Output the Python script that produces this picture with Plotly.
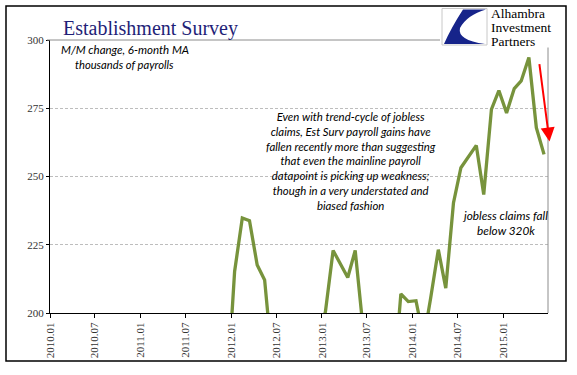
import plotly.graph_objects as go
import pandas as pd

# ---------------- data ----------------
start_month = "2010-01"
# Establishment survey, M/M change, 6-month MA (thousands of payrolls)
payroll_ma = [
    40, 65, 95, 135, 180, 150, 115, 75, 40, 25, 35, 70,            # 2010
    95, 125, 160, 185, 170, 150, 120, 110, 100, 120, 135, 170,     # 2011
    215.2, 234.8, 233.8, 217.6, 212.1, 182, 160, 150, 155, 170, 180, 190,  # 2012
    200.5, 222.9, 218, 213, 222.9, 195, 185, 180, 178, 172, 207, 204.2,   # 2013
    204.5, 190.4, 205.4, 223.2, 209.1, 240.3, 253.2, 257.2, 261.4, 243.4, 274.6, 281.5,  # 2014
    273.3, 282.2, 285, 293.6, 267.9, 258.1,                        # 2015
]
tick_labels = ["2010.01", "2010.07", "2011.01", "2011.07", "2012.01", "2012.07",
               "2013.01", "2013.07", "2014.01", "2014.07", "2015.01"]
y_ticks = [200, 225, 250, 275, 300]
x_range = ["2010-01-01", "2015-07-01"]
y_range = [200, 300]

months = pd.period_range(start_month, periods=len(payroll_ma), freq="M")
x_dates = [p.start_time + pd.Timedelta(days=14) for p in months]
tick_dates = [pd.Period(t.replace(".", "-"), freq="M").start_time for t in tick_labels]

# ---------------- layout geometry ----------------
W, H = 577, 375
L, R, T, B = 50, 548, 40, 313


def px(x):
    return (x - L) / (R - L)


def py(y):
    return (B - y) / (B - T)


SERIF = "Liberation Serif"
SANS = "Lato"

fig = go.Figure()
fig.add_trace(go.Scatter(
    x=x_dates, y=payroll_ma, mode="lines",
    line=dict(color="#77933C", width=3.3),
    hoverinfo="x+y", showlegend=False,
))

shapes = [
    # outer frame
    dict(type="rect", xref="paper", yref="paper", x0=px(6), x1=px(566), y0=py(361), y1=py(6),
         line=dict(color="black", width=1.5), fillcolor="rgba(0,0,0,0)", layer="above"),
    # plot area top & right border
    dict(type="line", xref="paper", yref="paper", x0=px(47), x1=px(548), y0=1, y1=1,
         line=dict(color="#8c8c8c", width=1)),
    dict(type="line", xref="paper", yref="paper", x0=1, x1=1, y0=0, y1=1,
         line=dict(color="#8c8c8c", width=1)),
    # logo background
    dict(type="rect", xref="paper", yref="paper", x0=px(440), x1=px(563), y0=py(47.5), y1=py(7.5),
         line=dict(width=0), fillcolor="white"),
    dict(type="rect", xref="paper", yref="paper", x0=px(442), x1=px(487), y0=py(45), y1=py(8.5),
         line=dict(color="#c8c8c8", width=1), fillcolor="white"),
]

logo_pts = "M {a},{b} L {c},{d} Q {e},{f} {g},{h} L {i},{j} Q {k},{l} {m},{n} Q {o},{p} {a},{b} Z".format(
    a=px(486), b=py(9.5), c=px(463), d=py(9.5), e=px(451), f=py(28), g=px(444), h=py(44),
    i=px(485), j=py(44), k=px(457), l=py(40), m=px(460), n=py(28), o=px(467), p=py(15))
shapes.append(dict(type="path", xref="paper", yref="paper", path=logo_pts,
                   fillcolor="#16248a", line=dict(width=0)))

annotations = [
    dict(text="Establishment Survey", x=px(61), y=py(28.5), xanchor="left", yanchor="middle",
         font=dict(family=SERIF, size=20, color="#1f1f78")),
    dict(text="Alhambra", x=px(489), y=py(14), xanchor="left", yanchor="middle",
         font=dict(family=SERIF, size=13.5, color="black")),
    dict(text="Investment", x=px(489), y=py(27.5), xanchor="left", yanchor="middle",
         font=dict(family=SERIF, size=13.5, color="black")),
    dict(text="Partners", x=px(489), y=py(41), xanchor="left", yanchor="middle",
         font=dict(family=SERIF, size=13.5, color="black")),
    dict(text="<i>M/M change, 6-month MA</i>", x=px(125), y=py(49.5), xanchor="center", yanchor="middle",
         font=dict(family=SANS, size=11.5, color="black")),
    dict(text="<i>thousands of payrolls</i>", x=px(124), y=py(64), xanchor="center", yanchor="middle",
         font=dict(family=SANS, size=11.2, color="black")),
    dict(text="<i>Even with trend-cycle of jobless<br>claims, Est Surv payroll gains have<br>"
              "fallen recently more than suggesting<br>that even the mainline payroll<br>"
              "datapoint is picking up weakness;<br>though in a very understated and<br>biased fashion</i>",
         x=px(351), y=py(160.5), xanchor="center", yanchor="middle", align="center",
         font=dict(family=SANS, size=11.4, color="black")),
    dict(text="<i>jobless claims fall<br>below 320k</i>", x=px(504.5), y=py(222.5),
         xanchor="center", yanchor="middle", align="center",
         font=dict(family=SANS, size=11.8, color="black")),
    # red arrow
    dict(text="", x=px(549.5), y=py(141.5), ax=539.2 - 549.5, ay=62.7 - 141.5,
         showarrow=True, arrowhead=2, arrowsize=1.4, arrowwidth=2, arrowcolor="#ff0000",
         standoff=0, startstandoff=0),
]
for a in annotations:
    a.setdefault("xref", "paper")
    a.setdefault("yref", "paper")
    a.setdefault("showarrow", False)

fig.update_layout(
    width=W, height=H,
    margin=dict(l=L, r=W - R, t=T, b=H - B, pad=0),
    paper_bgcolor="white", plot_bgcolor="white",
    showlegend=False,
    shapes=shapes, annotations=annotations,
    xaxis=dict(type="date", range=x_range, tickvals=tick_dates, ticktext=tick_labels,
               tickangle=-90, ticks="outside", ticklen=4, tickcolor="black",
               showline=True, linecolor="black", linewidth=1, showgrid=False, zeroline=False,
               tickfont=dict(family=SERIF, size=11, color="#333333")),
    yaxis=dict(range=y_range, tickvals=y_ticks, ticks="outside", ticklen=3, tickcolor="black",
               showline=True, linecolor="black", linewidth=1, zeroline=False,
               showgrid=True, gridcolor="#bdbdbd", griddash="3px,2px", gridwidth=1,
               tickfont=dict(family=SERIF, size=11, color="#333333")),
)

fig.write_html("out.html", config={"displayModeBar": False},
               post_script="document.body.style.margin='0';")
